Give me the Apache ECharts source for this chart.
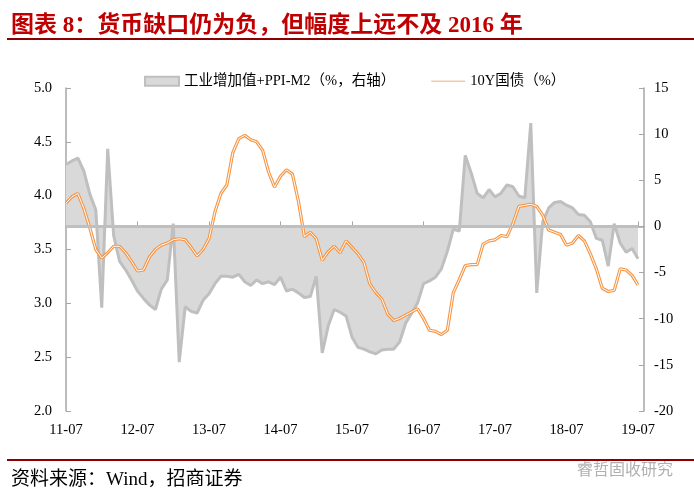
<!DOCTYPE html>
<html>
<head>
<meta charset="utf-8">
<script src="https://cdn.jsdelivr.net/npm/echarts@6/dist/echarts.min.js"></script>
<style>
body{margin:0;background:#fff;}
#chart{width:694px;height:499px;}
</style>
</head>
<body>
<div id="chart"></div>
<script>
var FONT = "'Liberation Serif','Noto Sans CJK SC',serif";

// 月份 2011-07 ~ 2019-08（最后一个留空）
var months = [];
for (var y = 2011; y <= 2019; y++) {
    for (var m = 1; m <= 12; m++) {
        if ((y == 2011 && m < 7) || (y == 2019 && m > 8)) continue;
        months.push(String(y).slice(2) + '-' + (m < 10 ? '0' + m : m));
    }
}

/** 工业增加值+PPI-M2（%，右轴） **/
var gapData = [
    6.7, 7.1, 7.4, 6.0, 3.5, 1.8, -8.8, 8.4, -1.0, -3.8, -4.7, -5.8,
    -7.0, -7.8, -8.5, -9.0, -6.8, -5.8, 0.3, -14.7, -8.7, -9.2, -9.4, -8.0,
    -7.3, -6.2, -5.4, -5.4, -5.5, -5.2, -6.0, -6.4, -5.8, -6.2, -6.0, -6.3,
    -5.5, -7.0, -6.8, -7.2, -7.7, -7.6, -5.4, -13.7, -10.8, -9.0, -9.3, -9.7,
    -12.0, -13.1, -13.3, -13.6, -13.8, -13.4, -13.3, -13.3, -12.5, -10.5, -9.4, -8.3,
    -6.2, -5.9, -5.5, -4.6, -2.7, -0.3, -0.5, 7.7, 5.8, 3.6, 3.1, 4.0,
    3.2, 3.6, 4.5, 4.3, 3.3, 3.1, 11.2, -7.2, 0.5, 2.0, 2.6, 2.7,
    2.3, 2.0, 1.3, 1.2, 0.5, -1.3, -1.5, -4.3, 0.3, -1.8, -2.8, -2.4,
    -3.5
];

/** 10Y国债（%） **/
var bondData = [
    3.93, 3.99, 4.02, 3.88, 3.70, 3.50, 3.42, 3.47, 3.53, 3.53, 3.47, 3.39,
    3.30, 3.31, 3.43, 3.50, 3.54, 3.56, 3.59, 3.60, 3.59, 3.52, 3.44, 3.50,
    3.60, 3.85, 4.02, 4.10, 4.40, 4.53, 4.56, 4.52, 4.50, 4.42, 4.22, 4.08,
    4.18, 4.24, 4.20, 3.95, 3.62, 3.66, 3.60, 3.40, 3.48, 3.53, 3.47, 3.58,
    3.52, 3.46, 3.38, 3.18, 3.10, 3.04, 2.90, 2.84, 2.86, 2.89, 2.92, 2.95,
    2.86, 2.75, 2.74, 2.71, 2.75, 3.10, 3.22, 3.35, 3.36, 3.36, 3.55, 3.58,
    3.59, 3.63, 3.62, 3.74, 3.90, 3.91, 3.92, 3.90, 3.82, 3.68, 3.66, 3.64,
    3.54, 3.56, 3.63, 3.58, 3.46, 3.32, 3.14, 3.11, 3.12, 3.32, 3.31, 3.26,
    3.17
];

var option = {
    animation: false,
    textStyle: {fontFamily: FONT},
    title: [{
        text: '图表 8：货币缺口仍为负，但幅度上远不及 2016 年',
        left: 6, top: 10,
        textStyle: {color: '#c00000', fontSize: 23, fontWeight: 'bold', fontFamily: FONT}
    }, {
        text: '资料来源：Wind，招商证券',
        left: 6, top: 466,
        textStyle: {color: '#000', fontSize: 19, fontWeight: 'normal', fontFamily: FONT}
    }, {
        text: '睿哲固收研究',
        left: 572, top: 456,
        textStyle: {color: '#b0b0b0', fontSize: 16, fontWeight: 'normal', fontFamily: "'Noto Sans CJK SC'"}
    }],
    graphic: [
        {type: 'rect', shape: {x: 7, y: 38, width: 687, height: 2}, style: {fill: '#8b0000'}},
        {type: 'rect', shape: {x: 7, y: 459, width: 687, height: 2}, style: {fill: '#8b0000'}}
    ],
    legend: {
        top: 69, left: 139,
        itemGap: 36, itemWidth: 34, itemHeight: 9,
        textStyle: {fontSize: 14.5, color: '#000', fontFamily: FONT},
        data: [
            {name: '工业增加值+PPI-M2（%，右轴）', icon: 'rect',
             itemStyle: {color: '#d9d9d9', borderColor: '#bfbfbf', borderWidth: 2}},
            {name: '10Y国债（%）', icon: 'path://M0,4 L40,4 L40,6 L0,6 Z', itemStyle: {color: '#f8c8a0'}}
        ]
    },
    grid: {left: 66, right: 50, top: 88, bottom: 88},
    xAxis: {
        type: 'category',
        data: months,
        boundaryGap: false,
        axisLine: {lineStyle: {color: '#a6a6a6', width: 1.5}},
        axisTick: {inside: true, interval: 11, length: 5, lineStyle: {color: '#a6a6a6'}},
        axisLabel: {interval: 11, color: '#000', fontSize: 14.5, margin: 12, fontFamily: FONT},
        splitLine: {show: false}
    },
    yAxis: [{
        type: 'value', min: 2.0, max: 5.0, interval: 0.5,
        axisLine: {show: true, lineStyle: {color: '#a6a6a6', width: 1.5}},
        axisTick: {show: true, inside: true, length: 5, lineStyle: {color: '#a6a6a6'}},
        axisLabel: {color: '#000', fontSize: 14.5, margin: 14, fontFamily: FONT,
            formatter: function (v) { return v.toFixed(1); }},
        splitLine: {show: false}
    }, {
        type: 'value', min: -20, max: 15, interval: 5,
        axisLine: {show: true, lineStyle: {color: '#a6a6a6', width: 1.5}},
        axisTick: {show: true, inside: true, length: 5, lineStyle: {color: '#a6a6a6'}},
        axisLabel: {color: '#000', fontSize: 14.5, margin: 10, fontFamily: FONT},
        splitLine: {show: false}
    }],
    series: [{
        name: '工业增加值+PPI-M2（%，右轴）',
        type: 'line',
        yAxisIndex: 1,
        data: gapData,
        symbol: 'none',
        lineStyle: {color: '#bfbfbf', width: 3},
        areaStyle: {color: '#d9d9d9', opacity: 1},
        itemStyle: {color: '#d9d9d9'},
        markLine: {
            silent: true, symbol: 'none', label: {show: false},
            lineStyle: {color: '#bfbfbf', width: 3, type: 'solid'},
            data: [[{coord: [0, 0]}, {coord: [96, 0]}]]
        }
    }, {
        name: '10Y国债（%）',
        type: 'line',
        data: bondData,
        symbol: 'none',
        lineStyle: {color: '#f79646', width: 3.2},
        itemStyle: {color: '#f79646'},
        z: 3
    }, {
        name: 'inner',
        type: 'line',
        data: bondData,
        symbol: 'none',
        lineStyle: {color: '#ffffff', width: 1},
        z: 4
    }]
};

var myEcharts = echarts.init(document.getElementById('chart'));
myEcharts.setOption(option);
</script>
</body>
</html>
